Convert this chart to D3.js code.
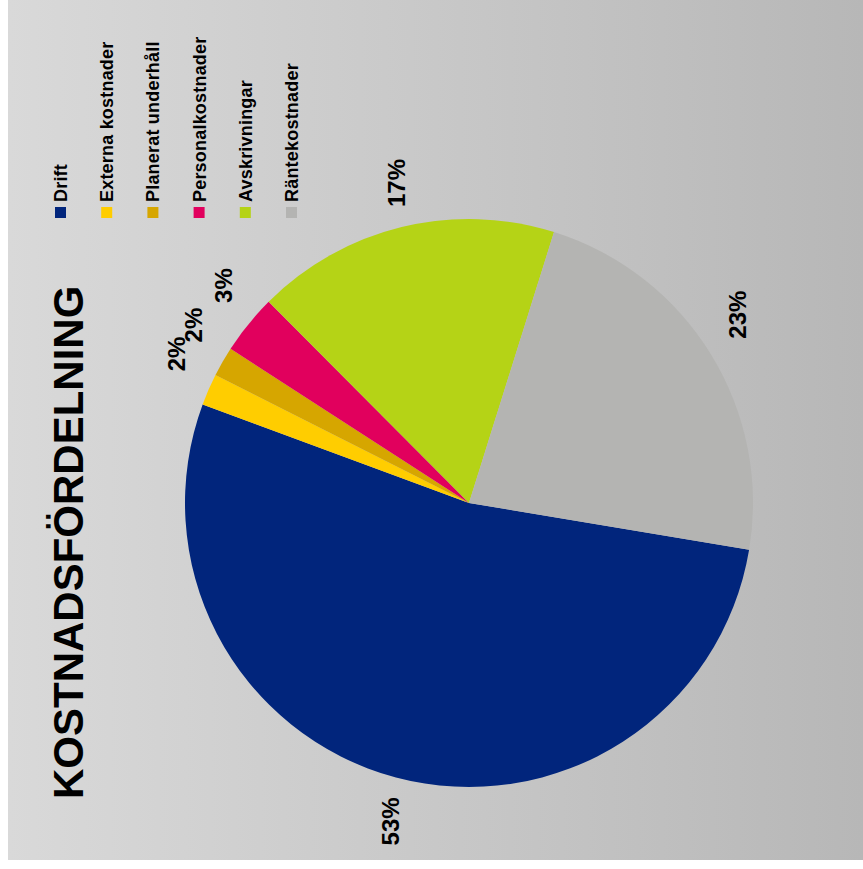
<!DOCTYPE html>
<html>
<head>
<meta charset="utf-8">
<script src="https://cdn.jsdelivr.net/npm/d3@7"></script>
<style>
  html, body { margin: 0; padding: 0; background: #ffffff; }
  svg { display: block; }
  text { font-family: "Liberation Sans", Arial, Helvetica, sans-serif; font-weight: bold; fill: #000; }
</style>
</head>
<body>
<svg id="chart" width="863" height="869"></svg>
<script>
// Cost categories and their share of total costs (percent)
const categories = ["Drift", "Externa kostnader", "Planerat underhåll", "Personalkostnader", "Avskrivningar", "Räntekostnader"];
const shares = [53.0, 1.8, 1.7, 3.4, 17.3, 22.8];
const colors = ["#01257c", "#ffcd00", "#d6a600", "#e1005d", "#b5d316", "#b4b4b2"];
const title = "KOSTNADSFÖRDELNING";

// Small angular nudges (degrees) so crowded percentage labels sit clear of each other
const labelNudgeDeg = [-1, 3.5, 3, 2.5, 1, -3.5];

const W = 863, H = 869;
const svg = d3.select("#chart");

// Panel background with horizontal gray gradient
const defs = svg.append("defs");
const grad = defs.append("linearGradient").attr("id", "bg").attr("x1", "0").attr("x2", "1").attr("y1", "0").attr("y2", "0");
grad.append("stop").attr("offset", "0").attr("stop-color", "#d9d9d9");
grad.append("stop").attr("offset", "1").attr("stop-color", "#b7b7b7");
svg.append("rect").attr("x", 8).attr("y", 0).attr("width", W - 8).attr("height", 860).attr("fill", "url(#bg)");

// The whole chart reads sideways: text runs bottom-to-top
const cx = 469, cy = 503, R = 284, labelR = 328;
const startDeg = 99.5;
const pie = d3.pie().sort(null).value(d => d.value)
  .startAngle(startDeg * Math.PI / 180)
  .endAngle(startDeg * Math.PI / 180 + 2 * Math.PI);
const data = categories.map((c, i) => ({ name: c, value: shares[i], color: colors[i], nudge: labelNudgeDeg[i] }));
const arcs = pie(data);
const total = d3.sum(shares);

const arc = d3.arc().innerRadius(0).outerRadius(R);

const g = svg.append("g").attr("transform", `translate(${cx},${cy})`);
g.selectAll("path.slice").data(arcs).join("path")
  .attr("class", "slice")
  .attr("d", arc)
  .attr("fill", d => d.data.color);

function labelPos(d) {
  const a = (d.startAngle + d.endAngle) / 2 + d.data.nudge * Math.PI / 180;
  return [Math.sin(a) * labelR, -Math.cos(a) * labelR];
}

g.selectAll("text.pct").data(arcs).join("text")
  .attr("class", "pct")
  .attr("transform", d => { const [x, y] = labelPos(d); return `translate(${x},${y}) rotate(-90)`; })
  .attr("text-anchor", "middle")
  .attr("dominant-baseline", "central")
  .style("font-size", "24px")
  .text(d => Math.round(d.data.value / total * 100) + "%");

// Title
svg.append("text")
  .attr("transform", "translate(83,799) rotate(-90)")
  .attr("text-anchor", "start")
  .style("font-size", "42px")
  .text(title);

// Legend
const legX = d3.scalePoint().domain(categories).range([60.5, 291.5]);
const leg = svg.append("g").selectAll("g").data(data).join("g")
  .attr("transform", d => `translate(${legX(d.name)},0)`);
leg.append("rect")
  .attr("x", -5.5).attr("y", 207).attr("width", 11).attr("height", 11)
  .attr("fill", d => d.color);
leg.append("text")
  .attr("transform", "translate(6.5,202) rotate(-90)")
  .attr("text-anchor", "start")
  .style("font-size", "18px")
  .style("letter-spacing", "0.2px")
  .text(d => d.name);
</script>
</body>
</html>
